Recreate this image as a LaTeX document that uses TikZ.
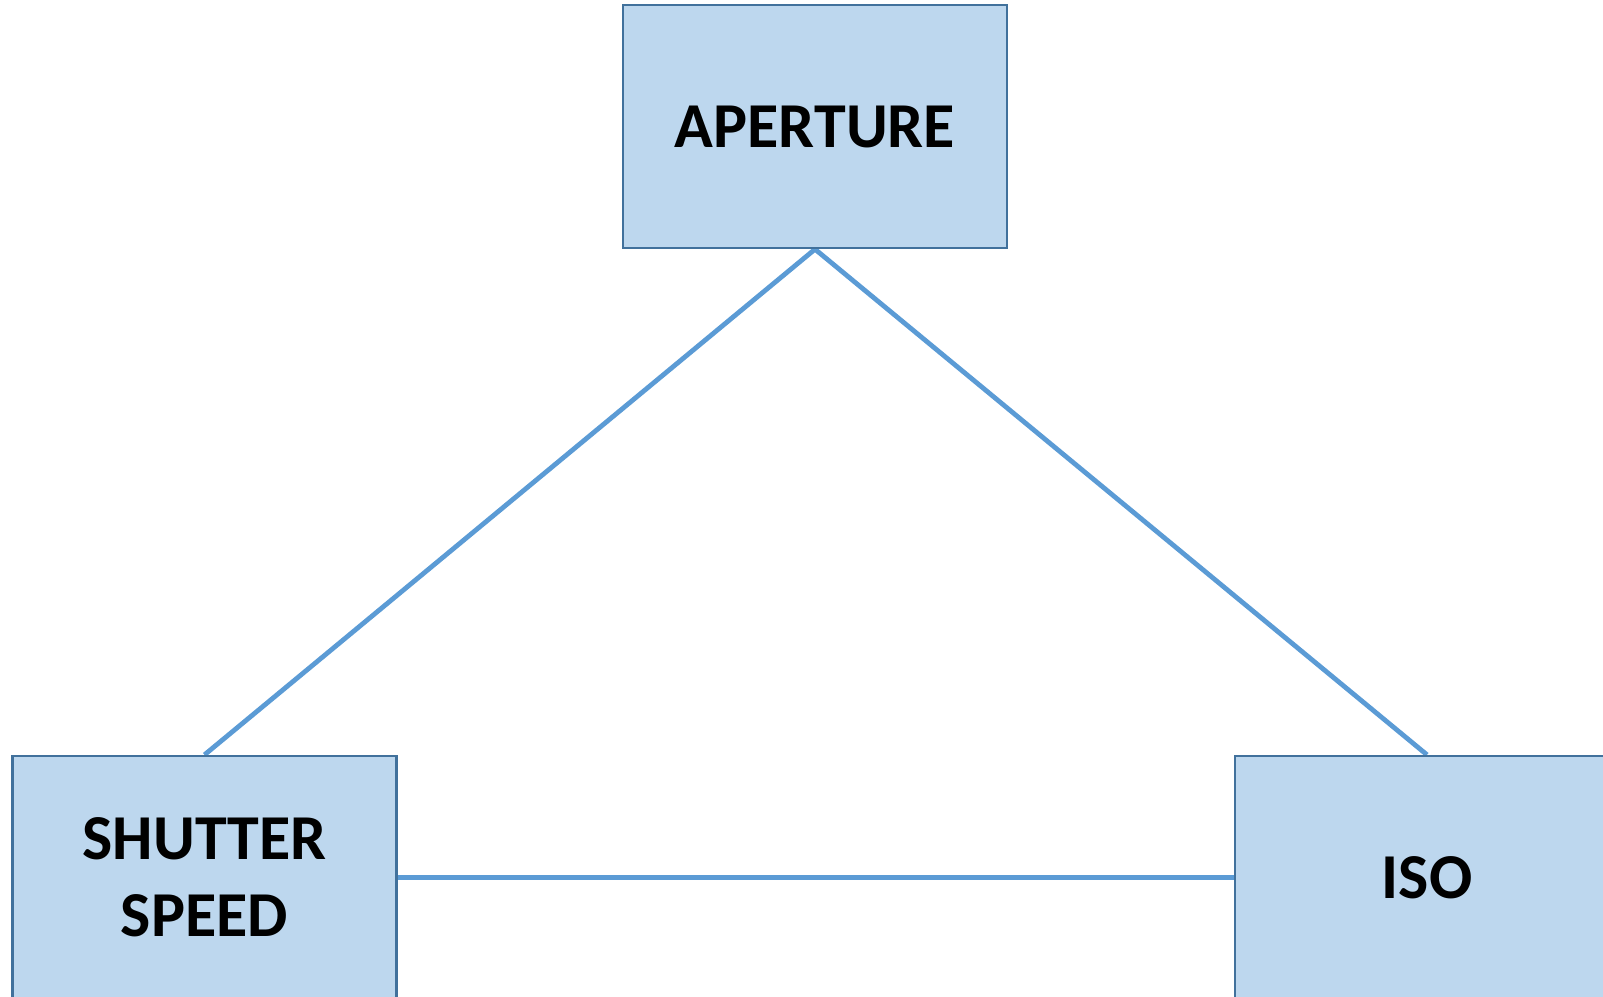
\documentclass[tikz,border=0pt]{standalone}
\usepackage{fontspec}
\setmainfont{Carlito}
\usetikzlibrary{backgrounds}
\definecolor{boxfill}{HTML}{BDD7EE}
\definecolor{boxline}{HTML}{41719C}
\definecolor{linkline}{HTML}{5B9BD5}
\tikzset{
  setting/.style={draw=boxline, line width=1.2pt, fill=boxfill,
    minimum width=192pt, minimum height=121.5pt, inner sep=0pt,
    align=center, font=\bfseries\fontsize{32}{38.5}\selectfont},
  link/.style={draw=linkline, line width=2.4pt}
}
\begin{document}
\begin{tikzpicture}[x=0.5pt, y=-0.5pt]
  \useasboundingbox (0,0) rectangle (1603,997);
  \clip (0,0) rectangle (1603,997);
  \node[setting] (ap)  at (815,126.5) {APERTURE};
  \node[setting] (ss)  at (204.5,877.5) {SHUTTER\\SPEED};
  \node[setting] (iso) at (1427,877.5) {ISO};
  \begin{scope}[on background layer]
    \draw[link] (ap.south) -- (ss.north);
    \draw[link] (ap.south) -- (iso.north);
    \draw[link] (ss.east) -- (iso.west);
  \end{scope}
\end{tikzpicture}
\end{document}
